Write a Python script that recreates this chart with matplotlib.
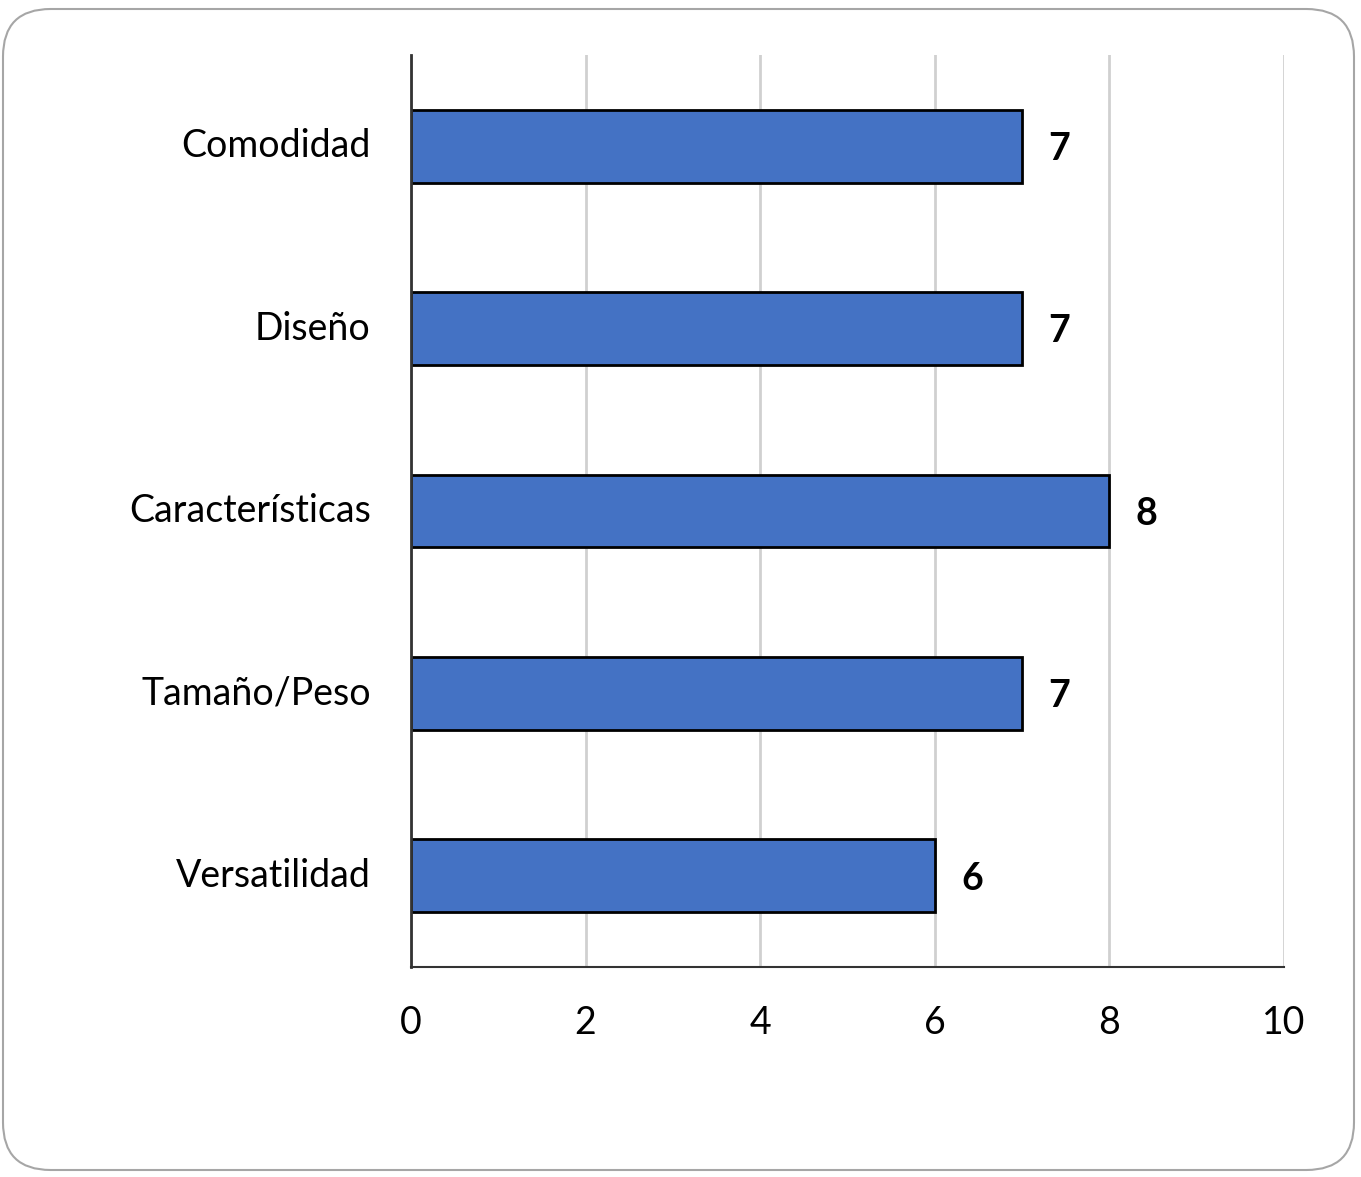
import matplotlib
matplotlib.use("Agg")
import matplotlib.pyplot as plt
from matplotlib.patches import FancyBboxPatch

categories = ["Comodidad", "Diseño", "Características", "Tamaño/Peso", "Versatilidad"]
values = [7, 7, 8, 7, 6]
xticks = [0, 2, 4, 6, 8, 10]

plt.rcParams['font.family'] = ['Lato', 'DejaVu Sans']

W, H = 1361, 1177
fig = plt.figure(figsize=(W/100, H/100), dpi=100)

# rounded frame
frame = FancyBboxPatch((3/W, 7/H), (1354-3)/W, (1168-7)/H,
                       boxstyle="round,pad=0,rounding_size=0.035",
                       transform=fig.transFigure, facecolor='none',
                       edgecolor='#a6a6a6', linewidth=1.5, mutation_aspect=W/H, zorder=-5)
fig.patches.append(frame)

ax = fig.add_axes([411/W, (H-967)/H, (1284-411)/W, (967-55)/H])
ax.set_facecolor('none')
y = list(range(len(categories)))
ax.barh(y, values, height=0.4, color='#4472C4', edgecolor='black', linewidth=2, zorder=3)
ax.set_ylim(len(categories)-0.5, -0.5)
ax.set_xlim(0, 10)
ax.set_xticks(xticks)
ax.set_xticklabels([str(t) for t in xticks])
ax.set_yticks(y)
ax.set_yticklabels(categories, va='center')
ax.tick_params(axis='both', length=0, labelsize=27)
ax.tick_params(axis='y', pad=29)
ax.tick_params(axis='x', pad=27)
ax.grid(axis='x', color='#d0d0d0', linewidth=2, zorder=0)
for s in ['top', 'right']:
    ax.spines[s].set_visible(False)
ax.spines['left'].set_color('#333333')
ax.spines['left'].set_linewidth(2)
ax.spines['bottom'].set_color('#333333')
ax.spines['bottom'].set_linewidth(1.5)
ax.spines['left'].set_zorder(4)

for yi, v in zip(y, values):
    ax.annotate(str(v), xy=(v, yi), xytext=(27, -2), textcoords='offset points',
                ha='center', va='center', fontsize=27, fontweight='bold')

fig.savefig("out.png", dpi=100)
